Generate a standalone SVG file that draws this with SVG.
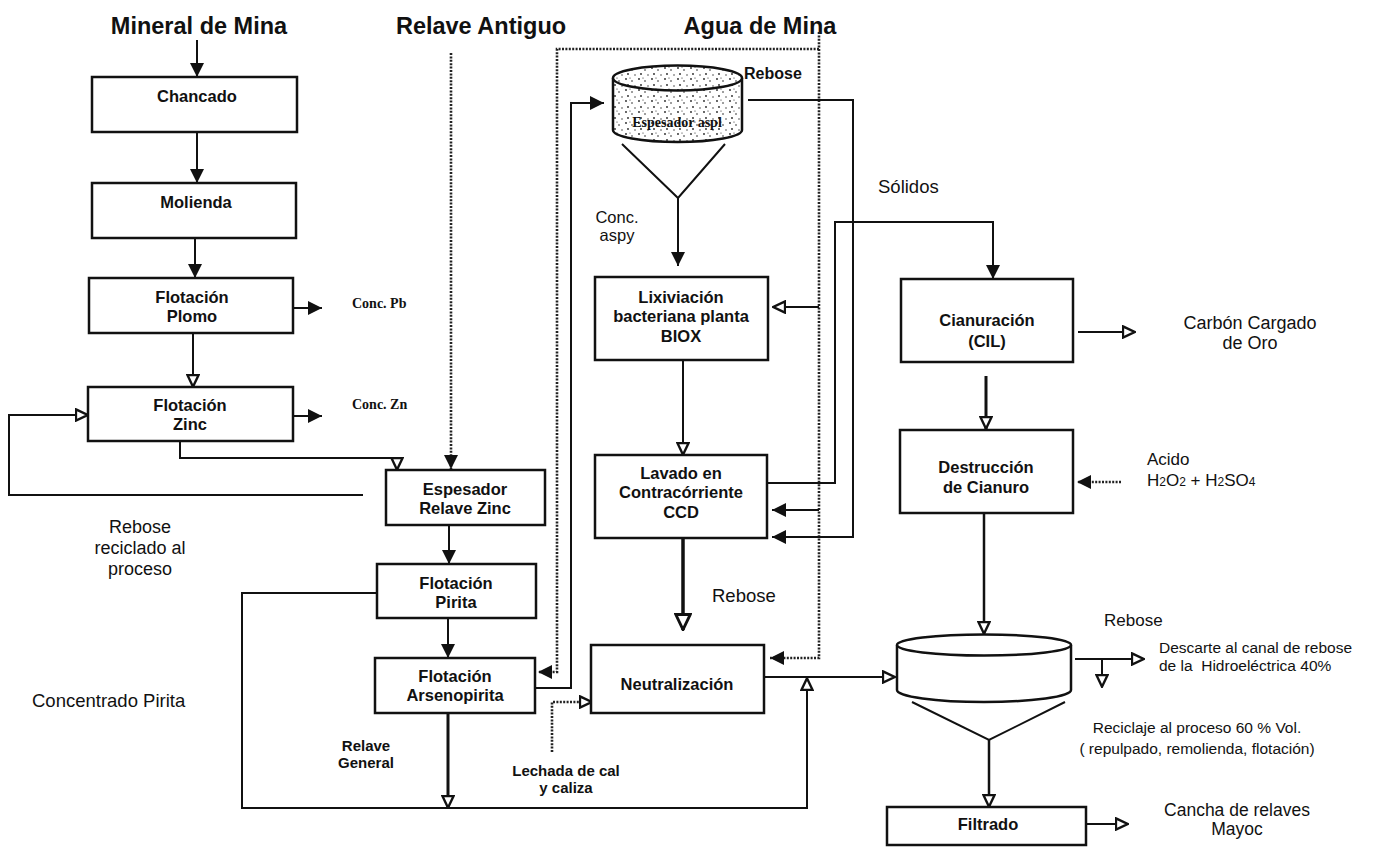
<svg xmlns="http://www.w3.org/2000/svg" width="1378" height="847" viewBox="0 0 1378 847">
<style>
.box{fill:#fff;stroke:#111;stroke-width:2.5}
.ln{fill:none;stroke:#111;stroke-width:2}
.thk{fill:none;stroke:#111;stroke-width:3}
.dot{fill:none;stroke:#222;stroke-width:2.6;stroke-dasharray:2 1.4}
text{font-family:"Liberation Sans",Arial,sans-serif;fill:#111}
.title{font-size:23.5px;font-weight:bold}
.bl{font-size:16.5px;font-weight:bold;text-anchor:middle}
.lb{font-size:18px}
.sm{font-size:15px;font-weight:bold}
.serif{font-family:"Liberation Serif","Times New Roman",serif;font-weight:bold}
.eq{fill:#fff;stroke:#111;stroke-width:2.5}
</style>
<defs>
<marker id="af" viewBox="0 0 10 10" refX="10" refY="5" markerWidth="14" markerHeight="14" markerUnits="userSpaceOnUse" orient="auto"><path d="M0,0 L10,5 L0,10 z" fill="#111"/></marker>
<marker id="ah" viewBox="0 0 10 10" refX="9.6" refY="5" markerWidth="14" markerHeight="14" markerUnits="userSpaceOnUse" orient="auto"><path d="M1,1 L9.4,5 L1,9 z" fill="#fff" stroke="#111" stroke-width="1.7"/></marker>
<marker id="ahb" viewBox="0 0 10 10" refX="9.6" refY="5" markerWidth="18" markerHeight="18" markerUnits="userSpaceOnUse" orient="auto"><path d="M1,1 L9.4,5 L1,9 z" fill="#fff" stroke="#111" stroke-width="1.6"/></marker>
<pattern id="stip" width="13" height="11" patternUnits="userSpaceOnUse">
<rect width="13" height="11" fill="#fff"/>
<circle cx="2" cy="2" r="0.9" fill="#222"/><circle cx="8" cy="4" r="0.8" fill="#222"/><circle cx="4" cy="8" r="0.9" fill="#222"/><circle cx="11" cy="9" r="0.7" fill="#222"/><circle cx="6" cy="1" r="0.6" fill="#222"/>
</pattern>
</defs>
<rect width="1378" height="847" fill="#fff"/>

<g id="titles">
<text class="title" x="199" y="34" text-anchor="middle">Mineral de Mina</text>
<text class="title" x="481" y="34" text-anchor="middle">Relave Antiguo</text>
<text class="title" x="760" y="34" text-anchor="middle">Agua de Mina</text>
</g>

<g id="connectors">
<!-- left column -->
<path class="ln" d="M197,40 V77" marker-end="url(#af)"/>
<path class="ln" d="M197,132 V183" marker-end="url(#af)"/>
<path class="ln" d="M195,238 V278" marker-end="url(#af)"/>
<path class="ln" d="M293,308 H322" marker-end="url(#af)"/>
<path class="ln" d="M193,333 V387" marker-end="url(#ah)"/>
<path class="ln" d="M293,416 H322" marker-end="url(#af)"/>
<path class="ln" d="M363,495 H9 V415 H88" marker-end="url(#ah)"/>
<path class="ln" d="M180,441 V458 H397 V470" marker-end="url(#ah)"/>
<path class="dot" d="M451,53 V469" marker-end="url(#af)"/>
<path class="ln" d="M449,525 V564" marker-end="url(#af)"/>
<path class="ln" d="M448,618 V658" marker-end="url(#af)"/>
<path class="ln" d="M377,593 H242 V808 H807 V678" marker-end="url(#ah)"/>
<path class="thk" d="M448,713 V808" marker-end="url(#ah)"/>
<!-- agua de mina dotted -->
<path class="dot" d="M819,32 V658 H770" marker-end="url(#af)"/>
<path class="dot" d="M819,49 H557 V672 H538" marker-end="url(#af)"/>
<path class="ln" d="M819,307 H773" marker-end="url(#ah)"/>
<path class="ln" d="M819,510 H772" marker-end="url(#af)"/>
<!-- arseno to thickener -->
<path class="ln" d="M535,688 H571 V103 H604" marker-end="url(#af)"/>
<!-- thickener outlets -->
<path class="ln" d="M678,198 V266" marker-end="url(#af)"/>
<path class="ln" d="M748,100 H853 V537 H772" marker-end="url(#af)"/>
<path class="ln" d="M683,360 V455" marker-end="url(#ah)"/>
<path class="ln" d="M767,483 H835 V222 H993 V279" marker-end="url(#af)"/>
<path class="thk" style="stroke-width:3.5" d="M683,538 V630" marker-end="url(#ahb)"/>
<path class="dot" d="M552,752 V702 H592" marker-end="url(#ah)"/>
<path class="ln" d="M764,677 H895" marker-end="url(#ah)"/>
<!-- right column -->
<path class="ln" d="M1078,332 H1135" marker-end="url(#ah)"/>
<path class="thk" d="M986,376 V429" marker-end="url(#ah)"/>
<path class="dot" d="M1121,482 H1077" marker-end="url(#af)"/>
<path class="ln" style="stroke-width:2.5" d="M984,513 V634" marker-end="url(#ah)"/>
<path class="ln" d="M1075,659 H1144" marker-end="url(#ah)"/>
<path class="ln" d="M1102,659 V687" marker-end="url(#ah)"/>
<path class="ln" style="stroke-width:2.5" d="M989,740 V807" marker-end="url(#ah)"/>
<path class="ln" d="M1086,824 H1128" marker-end="url(#ah)"/>
</g>

<g id="chancado"><rect class="box" x="92" y="77" width="205" height="55"/><text class="bl" x="197" y="102">Chancado</text></g>
<g id="molienda"><rect class="box" x="92" y="183" width="204" height="55"/><text class="bl" x="196" y="208">Molienda</text></g>
<g id="flot-plomo"><rect class="box" x="89" y="278" width="204" height="55"/><text class="bl" x="192" y="303">Flotación</text><text class="bl" x="192" y="322">Plomo</text></g>
<g id="flot-zinc"><rect class="box" x="88" y="387" width="205" height="54"/><text class="bl" x="190" y="411">Flotación</text><text class="bl" x="190" y="430">Zinc</text></g>
<g id="espesador-zinc"><rect class="box" x="386" y="470" width="159" height="55"/><text class="bl" x="465" y="495">Espesador</text><text class="bl" x="465" y="514">Relave Zinc</text></g>
<g id="flot-pirita"><rect class="box" x="377" y="564" width="159" height="54"/><text class="bl" x="456" y="589">Flotación</text><text class="bl" x="456" y="608">Pirita</text></g>
<g id="flot-arseno"><rect class="box" x="375" y="658" width="160" height="55"/><text class="bl" x="455" y="682">Flotación</text><text class="bl" x="455" y="701">Arsenopirita</text></g>

<g id="espesador-aspl">
<path class="eq" style="fill:url(#stip)" d="M613,78 V130 A64.5,12 0 0 0 742,130 V78"/>
<ellipse class="eq" style="fill:url(#stip)" cx="677.5" cy="78" rx="64.5" ry="12.5"/>
<path class="ln" d="M622,144 L678,198 L725,144"/>
<text class="serif" x="677" y="127" text-anchor="middle" style="font-size:14px">Espesador aspl</text>
</g>
<g id="lixiviacion"><rect class="box" x="595" y="277" width="173" height="83"/><text class="bl" x="681" y="303">Lixiviación</text><text class="bl" x="681" y="322">bacteriana planta</text><text class="bl" x="681" y="342">BIOX</text></g>
<g id="ccd"><rect class="box" x="595" y="455" width="172" height="83"/><text class="bl" x="681" y="479">Lavado en</text><text class="bl" x="681" y="498">Contracórriente</text><text class="bl" x="681" y="518">CCD</text></g>
<g id="neutralizacion"><rect class="box" x="591" y="645" width="173" height="68"/><text class="bl" x="677" y="690">Neutralización</text></g>
<g id="cianuracion"><rect class="box" x="901" y="279" width="172" height="83"/><text class="bl" x="987" y="326">Cianuración</text><text class="bl" x="987" y="347">(CIL)</text></g>
<g id="destruccion"><rect class="box" x="900" y="430" width="173" height="83"/><text class="bl" x="986" y="473">Destrucción</text><text class="bl" x="986" y="493">de Cianuro</text></g>
<g id="espesador-final">
<path class="eq" d="M897,645 V690 A87,12 0 0 0 1071,690 V645"/>
<ellipse class="eq" cx="984" cy="645" rx="87" ry="10.5"/>
<path class="ln" d="M912,702 L989,740 L1065,702"/>
</g>
<g id="filtrado"><rect class="box" x="887" y="807" width="199" height="38"/><text class="bl" x="988" y="830">Filtrado</text></g>

<g id="labels">
<text class="serif" x="352" y="308" style="font-size:14px">Conc. Pb</text>
<text class="serif" x="352" y="409" style="font-size:14px">Conc. Zn</text>
<text class="lb" x="140" y="533" text-anchor="middle">Rebose</text>
<text class="lb" x="140" y="554" text-anchor="middle">reciclado al</text>
<text class="lb" x="140" y="575" text-anchor="middle">proceso</text>
<text class="lb" x="32" y="707" style="font-size:18.5px">Concentrado Pirita</text>
<text class="sm" x="366" y="751" text-anchor="middle">Relave</text>
<text class="sm" x="366" y="768" text-anchor="middle">General</text>
<text class="sm" x="566" y="776" text-anchor="middle">Lechada de cal</text>
<text class="sm" x="566" y="793" text-anchor="middle">y caliza</text>
<text x="744" y="79" style="font-size:16px;font-weight:bold">Rebose</text>
<text x="617" y="223" text-anchor="middle" style="font-size:16.5px">Conc.</text>
<text x="617" y="241" text-anchor="middle" style="font-size:16.5px">aspy</text>
<text x="878" y="193" style="font-size:18.5px">Sólidos</text>
<text x="712" y="602" style="font-size:18.5px">Rebose</text>
<text class="lb" x="1250" y="329" text-anchor="middle">Carbón Cargado</text>
<text class="lb" x="1250" y="349" text-anchor="middle">de Oro</text>
<text x="1147" y="465" style="font-size:17px">Acido</text>
<text x="1147" y="486" style="font-size:17px">H<tspan style="font-size:12px">2</tspan>O<tspan style="font-size:12px">2</tspan> + H<tspan style="font-size:12px">2</tspan>SO<tspan style="font-size:12px">4</tspan></text>
<text x="1104" y="626" style="font-size:17px">Rebose</text>
<text x="1159" y="653" style="font-size:15.5px">Descarte al canal de rebose</text>
<text x="1159" y="671" style="font-size:15.5px" xml:space="preserve">de la  Hidroeléctrica 40%</text>
<text x="1197" y="733" text-anchor="middle" style="font-size:15.5px">Reciclaje al proceso 60 % Vol.</text>
<text x="1197" y="754" text-anchor="middle" style="font-size:15.5px">( repulpado, remolienda, flotación)</text>
<text class="lb" x="1237" y="816" text-anchor="middle" style="font-size:17.5px">Cancha de relaves</text>
<text class="lb" x="1237" y="835" text-anchor="middle" style="font-size:17.5px">Mayoc</text>
</g>
</svg>
